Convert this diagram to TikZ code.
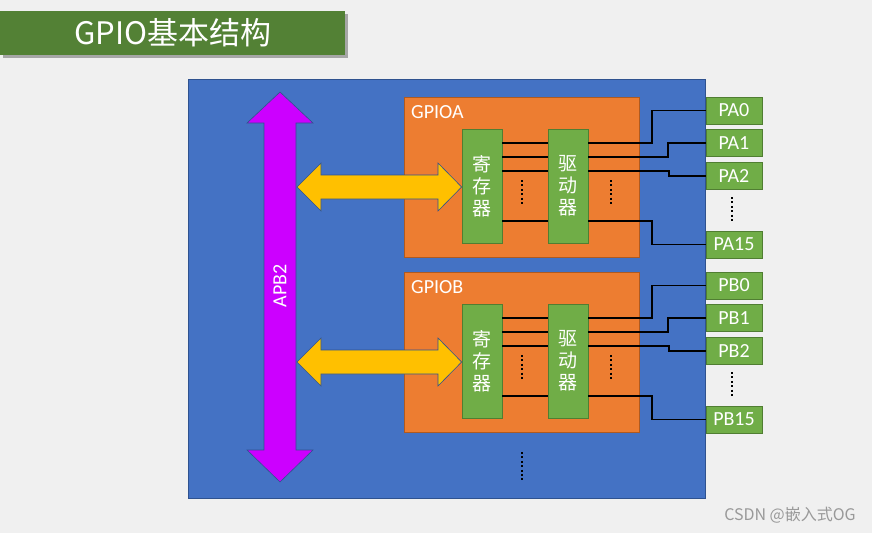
\documentclass[tikz,border=0pt]{standalone}
\usepackage{fontspec}
\setmainfont{Carlito}
\newfontfamily\cjk{Noto Sans CJK SC}

\definecolor{pagegray}{HTML}{F0F0F0}
\definecolor{titlegreen}{HTML}{538135}
\definecolor{chipblue}{HTML}{4472C4}
\definecolor{chipline}{HTML}{2F528F}
\definecolor{gpioorange}{HTML}{ED7D31}
\definecolor{gpioline}{HTML}{AE5A21}
\definecolor{unitgreen}{HTML}{70AD47}
\definecolor{unitline}{HTML}{507E32}
\definecolor{apbmagenta}{HTML}{CC00FF}
\definecolor{busyellow}{HTML}{FFC000}

\tikzset{
	blockbox/.style={fill=gpioorange, draw=gpioline, line width=0.8pt, minimum width=235pt, minimum height=160pt, inner sep=0pt, anchor=north west},
	unitbox/.style={fill=unitgreen, draw=unitline, line width=0.8pt, minimum width=40pt, minimum height=114pt, inner sep=0pt, text=white, align=center, font=\cjk\fontsize{19}{22}\selectfont},
	pinbox/.style={fill=unitgreen, draw=unitline, line width=0.8pt, minimum width=56pt, minimum height=27pt, inner sep=0pt, text=white, font=\fontsize{20}{20}\selectfont},
	wire/.style={line width=1.6pt, black},
	dotline/.style={line width=2pt, dash pattern=on 2pt off 2.4pt},
	busarrow/.style={draw=chipline, line width=0.6pt},
}

\begin{document}
\begin{tikzpicture}[x=1pt,y=-1pt]
	\fill[pagegray] (0,0) rectangle (872,533);
	\useasboundingbox (0,0) rectangle (872,533);

	% title bar
	\fill[black!35] (3,14) rectangle (348,58);
	\node[fill=titlegreen, minimum width=345pt, minimum height=44pt, inner sep=0pt, anchor=north west,
		text=white, font=\cjk\fontsize{31}{31}\selectfont] (title) at (0,11) {GPIO基本结构};

	\node[fill=chipblue, draw=chipline, line width=0.8pt, minimum width=517pt, minimum height=419pt,
		inner sep=0pt, anchor=north west] (chip) at (188,79) {};

	% APB2 bus
	\filldraw[busarrow, fill=apbmagenta] (280,92) -- (313,123) -- (296,123) -- (296,450) -- (313,450)
		-- (280,482) -- (247,450) -- (264,450) -- (264,123) -- (247,123) -- cycle;
	\node[rotate=90, text=white, font=\fontsize{20}{20}\selectfont] (apb) at (280,286) {APB2};

	\foreach \p/\o in {A/0, B/175} {
		\node[blockbox] (gpio\p) at (404,97+\o) {};
		\node[text=white, anchor=west, inner sep=0pt, font=\fontsize{20}{20}\selectfont] (name\p) at (411,112+\o) {GPIO\p};
		\node[unitbox] (reg\p) at (482,186+\o) {寄\\存\\器};
		\node[unitbox] (drv\p) at (568,186+\o) {驱\\动\\器};

		\filldraw[busarrow, fill=busyellow] (297,187+\o) -- (321,163+\o) -- (321,175+\o) -- (438,175+\o)
			-- (438,163+\o) -- (reg\p.west |- 0,187+\o) -- (438,211+\o) -- (438,199+\o) -- (321,199+\o)
			-- (321,211+\o) -- cycle;

		\foreach \w/\n/\bx/\py [evaluate=\w as \y using \w+\o, evaluate=\py as \pc using \py+\o] in
			{143/0/652/110.5, 157/1/668/143, 171/2/669/176, 221/15/652/244.5} {
			\node[pinbox] (pin\p\n) at (734,\pc) {P\p\n};
			\draw[wire] (reg\p.east |- 0,\y) -- (drv\p.west |- 0,\y);
			\draw[wire] (drv\p.east |- 0,\y) -- (\bx,\y) |- (pin\p\n.west);
		}

		\draw[dotline] (522,180+\o) -- (522,205+\o);
		\draw[dotline] (611,180+\o) -- (611,205+\o);
		\draw[dotline] (732,197+\o) -- (732,222+\o);
	}

	\draw[dotline] (522,452) -- (522,481);

	\node[text=black!40, font=\cjk\fontsize{16}{16}\selectfont] (mark) at (790,515) {CSDN @嵌入式OG};
\end{tikzpicture}
\end{document}
